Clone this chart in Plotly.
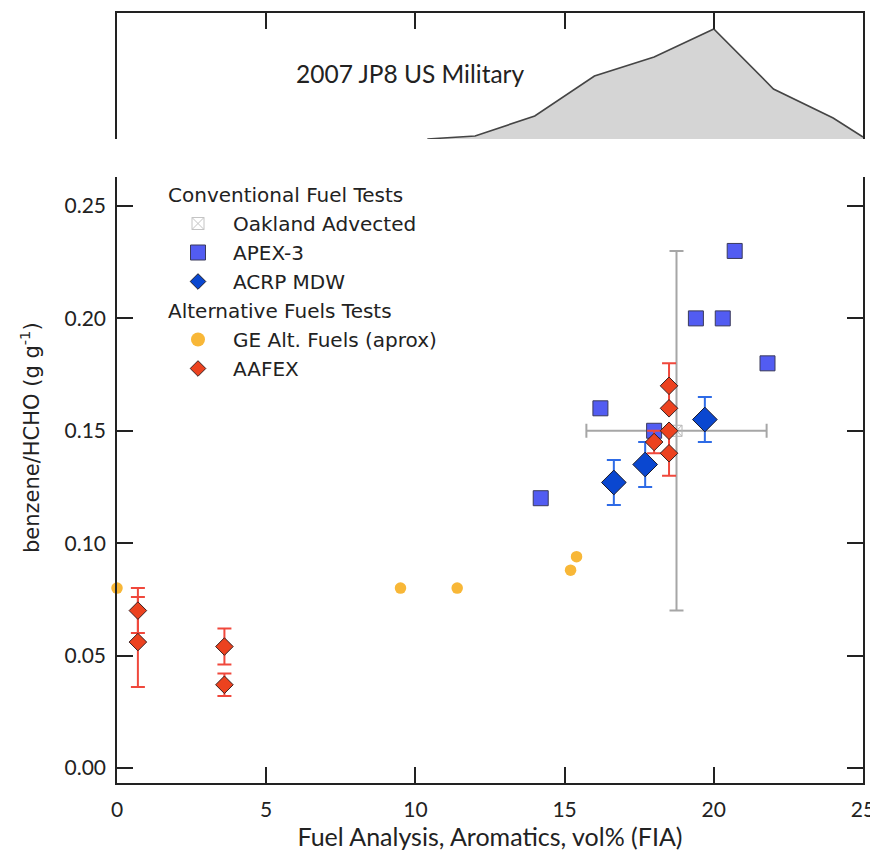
import plotly.graph_objects as go

# ---- data ----
# Top panel: 2007 JP8 US Military aromatics distribution (relative frequency)
dist_x = [10.4, 12.0, 14.0, 16.0, 18.0, 20.0, 22.0, 24.0, 25.0]
dist_y = [0, 3, 23, 63, 82, 110, 50, 21, 2]

# Oakland Advected
oak_x = [18.75]
oak_y = [0.150]
oak_xerr = [3.02]
oak_yerr = [0.080]

# APEX-3
apex_x = [14.2, 16.2, 18.0, 19.4, 20.3, 20.7, 21.8]
apex_y = [0.120, 0.160, 0.150, 0.200, 0.200, 0.230, 0.180]

# GE Alt. Fuels (aprox)
ge_x = [0.0, 9.5, 11.4, 15.2, 15.4]
ge_y = [0.080, 0.080, 0.080, 0.088, 0.094]

# ACRP MDW
acrp_x = [16.65, 17.7, 19.7]
acrp_y = [0.127, 0.135, 0.155]
acrp_err = [0.010, 0.010, 0.010]

# AAFEX
aafex_x = [0.7, 0.7, 3.6, 3.6, 18.5, 18.5, 18.5, 18.0, 18.5]
aafex_y = [0.070, 0.056, 0.054, 0.037, 0.170, 0.160, 0.150, 0.145, 0.140]
aafex_err = [0.010, 0.020, 0.008, 0.005, 0.010, 0.0, 0.0, 0.005, 0.010]

x_ticks = [0, 5, 10, 15, 20, 25]
y_ticks = [0.00, 0.05, 0.10, 0.15, 0.20, 0.25]
y_tick_text = ["0.00", "0.05", "0.10", "0.15", "0.20", "0.25"]

# ---- styles ----
INK = "#222222"
TICKFONT = dict(family="Lato", size=21, color=INK)
TITLEFONT = dict(family="Lato", size=25, color=INK)
LEGFONT = dict(family="DejaVu Sans", size=20, color=INK)
C_APEX = "#525CF2"
C_ACRP = "#0A47D0"
C_AAFEX = "#EC421F"
C_GE = "#F8B737"
C_OAK = "#B4B4B4"

# the page body adds an 8px offset; figure is sized so the screen view is 878x853
OFF = 8
W, H = 878 - OFF, 853 - OFF
ML, MR, MT, MB = 117 - OFF, 15, 13 - OFF, 70
PW, PH = W - ML - MR, H - MT - MB


def px(sx):
    return (sx - OFF - ML) / PW


def py(sy):
    return (H - MB - (sy - OFF)) / PH


fig = go.Figure()

# top panel distribution
fig.add_trace(go.Scatter(
    x=dist_x, y=dist_y, mode="lines", fill="tozeroy",
    fillcolor="#D5D5D5", line=dict(color="#454545", width=1.6),
    xaxis="x2", yaxis="y2", showlegend=False, hoverinfo="skip"))

# Oakland advected
fig.add_trace(go.Scatter(
    x=oak_x, y=oak_y, mode="markers",
    marker=dict(symbol="square-x-open", size=11, color=C_OAK, line=dict(width=1)),
    error_x=dict(type="data", array=oak_xerr, color="#A6A6A6", thickness=2, width=7),
    error_y=dict(type="data", array=oak_yerr, color="#A6A6A6", thickness=2, width=7),
    showlegend=False))

# APEX-3
fig.add_trace(go.Scatter(
    x=apex_x, y=apex_y, mode="markers",
    marker=dict(symbol="square", size=15, color=C_APEX, line=dict(color="#3A3A5A", width=1)),
    showlegend=False))

# GE
fig.add_trace(go.Scatter(
    x=ge_x, y=ge_y, mode="markers",
    marker=dict(symbol="circle", size=11.5, color=C_GE, line=dict(width=0)),
    cliponaxis=False, showlegend=False))

# ACRP MDW
fig.add_trace(go.Scatter(
    x=acrp_x, y=acrp_y, mode="markers",
    marker=dict(symbol="diamond", size=19, color=C_ACRP, line=dict(color="#1A1A2A", width=1)),
    error_y=dict(type="data", array=acrp_err, color="#2E6BE6", thickness=2, width=7),
    showlegend=False))

# AAFEX
fig.add_trace(go.Scatter(
    x=aafex_x, y=aafex_y, mode="markers",
    marker=dict(symbol="diamond", size=13.5, color=C_AAFEX, line=dict(color="#3A2020", width=1)),
    error_y=dict(type="data", array=aafex_err, color="#F0483C", thickness=2, width=7),
    showlegend=False))

# legend entries
leg = [
    ("conv", "Conventional Fuel Tests", "Oakland Advected", dict(symbol="square-x-open", size=12, color="#C4C4C4", line=dict(width=1))),
    ("conv", "Conventional Fuel Tests", "APEX-3", dict(symbol="square", size=15, color=C_APEX, line=dict(color="#3A3A5A", width=1))),
    ("conv", "Conventional Fuel Tests", "ACRP MDW", dict(symbol="diamond", size=12, color=C_ACRP, line=dict(color="#1A1A2A", width=1))),
    ("alt", "Alternative Fuels Tests", "GE Alt. Fuels (aprox)", dict(symbol="circle", size=14, color=C_GE, line=dict(width=0))),
    ("alt", "Alternative Fuels Tests", "AAFEX", dict(symbol="diamond", size=12, color=C_AAFEX, line=dict(color="#3A2020", width=1))),
]
for grp, title, name, mk in leg:
    fig.add_trace(go.Scatter(
        x=[None], y=[None], mode="markers", name=name, marker=mk,
        legendgroup=grp, legendgrouptitle=dict(text=title, font=LEGFONT),
        showlegend=True))

axis_common = dict(showline=True, linecolor=INK, linewidth=1.6,
                   ticklen=16, tickwidth=1.6, tickcolor=INK,
                   showgrid=False, zeroline=False, automargin=False)
axis_noticks = {k: v for k, v in axis_common.items() if k not in ("ticklen", "tickwidth", "tickcolor")}

fig.update_layout(
    width=W, height=H,
    margin=dict(l=ML, r=MR, t=MT, b=MB, autoexpand=False),
    paper_bgcolor="white", plot_bgcolor="white",
    showlegend=True,
    legend=dict(x=px(163), y=py(175), xanchor="left", yanchor="top",
                font=LEGFONT, tracegroupgap=0, itemwidth=60,
                bgcolor="rgba(0,0,0,0)", itemsizing="trace"),
    xaxis=dict(domain=[0, 1], range=[0, 25], tickvals=x_ticks, mirror=False,
               ticks="inside", tickfont=TICKFONT, ticklabelstandoff=7,
               title=dict(text="Fuel Analysis, Aromatics, vol% (FIA)", font=TITLEFONT, standoff=0),
               **axis_common),
    yaxis=dict(domain=[0, py(177)], range=[-0.0067, 0.2629],
               tickvals=y_ticks, ticktext=y_tick_text, mirror="ticks",
               ticks="inside", tickfont=TICKFONT, ticklabelstandoff=5,
               **axis_common),
    xaxis2=dict(domain=[0, 1], range=[0, 25], anchor="y2", side="top",
                tickvals=[5, 10, 15, 20], showticklabels=False, mirror=False,
                ticks="inside", **axis_common),
    yaxis2=dict(domain=[py(139), 1], range=[0, 126], anchor="x2",
                mirror=True, ticks="", showticklabels=False, **axis_noticks),
    annotations=[
        dict(text="2007 JP8 US Military", x=9.85, y=66, xref="x2", yref="y2",
             showarrow=False, font=dict(family="Lato", size=24.5, color=INK)),
        dict(text="benzene/HCHO (g g<sup>-1</sup>)",
             x=px(30), y=py(438), xanchor="center", yanchor="middle",
             xref="paper", yref="paper", showarrow=False, textangle=-90,
             font=dict(family="DejaVu Sans", size=21, color=INK)),
    ],
)

fig.write_html("out.html")
